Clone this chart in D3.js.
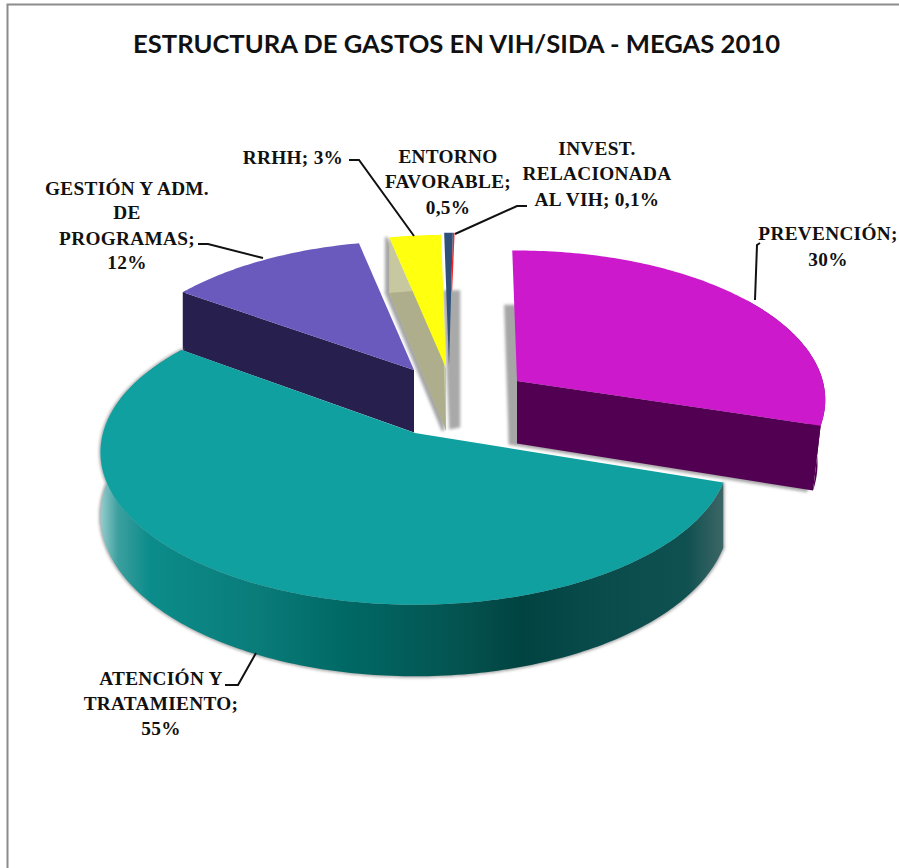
<!DOCTYPE html>
<html>
<head>
<meta charset="utf-8">
<title>Estructura de gastos</title>
<script src="https://d3js.org/d3.v7.min.js"></script>
<style>
html, body { margin: 0; padding: 0; background: #fff; }
svg { display: block; }
</style>
</head>
<body>
<svg id="chart" width="899" height="868"></svg>
<script>
// values, percentages of the total
var categories = ['PREVENCIÓN', 'ATENCIÓN Y TRATAMIENTO', 'GESTIÓN Y ADM. DE PROGRAMAS', 'RRHH', 'ENTORNO FAVORABLE', 'INVEST. RELACIONADA AL VIH'];
var values = [30, 55, 12, 3, 0.5, 0.1];
var titleText = 'ESTRUCTURA DE GASTOS EN VIH/SIDA - MEGAS 2010';

var topColors = ['#cc19cc', '#11a0a0', '#6a5abe', '#ffff10', '#2f5078', '#ff2020'];
var sideColors = ['#520052', 'url(#tealRim)', '#27204f', '#c8c8a0', '#a9a9a9', '#a9a9a9'];

// how far each slice is pulled out of the pie, and small per slice corrections
var explodeX = [77, -25, -26, 6, 9, 9];
var explodeY = [6, 58, -5, -7, -9, -9];
var radiusScale = [0.98, 1, 0.97, 1, 1, 1];
var spin = [0, 1.5, 0, 0, 0, 0];
var shadowX = [-7, 0, 0, -3, 0, 0];
var hasShadow = [true, true, false, true, false, false];
var taper = [0.975, 1, 1, 1, 1, 1];
var drawOrder = [5, 4, 3, 2, 0, 1];

var labels = [
  { lines: ['PREVENCIÓN;', '30%'], x: 828, y: [240, 266], leader: [[760, 243], [757, 245], [755, 300]] },
  { lines: ['ATENCIÓN Y', 'TRATAMIENTO;', '55%'], x: 161, y: [685, 710, 735], leader: [[225, 685], [238, 685], [256, 653]] },
  { lines: ['GESTIÓN Y ADM.', 'DE', 'PROGRAMAS;', '12%'], x: 127, y: [195, 219, 245, 269], leader: [[198, 244], [208, 244], [263, 258]] },
  { lines: ['RRHH; 3%'], x: 293, y: [164], leader: [[349, 160], [359, 160], [414, 236]] },
  { lines: ['ENTORNO', 'FAVORABLE;', '0,5%'], x: 448, y: [163, 188, 214], leader: null },
  { lines: ['INVEST.', 'RELACIONADA', 'AL VIH; 0,1%'], x: 597, y: [155, 180, 206], leader: [[527, 206], [517, 206], [455, 234]] }
];

var cx = 440, cy = 375;
var R = 312, tilt = 150, focal = 7.9, depth = 62.5;

var svg = d3.select('#chart');
var defs = svg.append('defs');

// rim shading of the big slice
var rim = defs.append('linearGradient').attr('id', 'tealRim')
  .attr('gradientUnits', 'userSpaceOnUse').attr('x1', 99).attr('x2', 730).attr('y1', 0).attr('y2', 0);
[[0, '#9fd0d0'], [0.03, '#3c9f9f'], [0.08, '#0b8c8a'], [0.25, '#0a7c7a'], [0.38, '#006a66'],
 [0.58, '#04524f'], [0.67, '#004341'], [0.8, '#0a4c4c'], [0.93, '#0f5050'], [1, '#456a6a']]
  .forEach(function(s) { rim.append('stop').attr('offset', s[0]).attr('stop-color', s[1]); });

defs.append('filter').attr('id', 'soft').attr('x', '-20%').attr('y', '-20%').attr('width', '140%').attr('height', '140%')
  .append('feGaussianBlur').attr('stdDeviation', 1.6);

// frame
svg.append('path')
  .attr('d', 'M7.5,868V4.5H899')
  .attr('fill', 'none').attr('stroke', '#8c8c8c').attr('stroke-width', 2);

svg.append('text')
  .attr('x', 456.5).attr('y', 53)
  .attr('text-anchor', 'middle')
  .attr('font-family', 'Lato')
  .attr('font-weight', 'bold')
  .attr('font-size', 25.6)
  .attr('fill', '#111')
  .text(titleText);

// percentages are rounded, so one full turn is 100 and not the sum of the array
// (d3.pie clamps its span to one turn, so the angles come from a plain scale)
var start = -1 * Math.PI / 180;
var angle = d3.scaleLinear().domain([0, 100]).range([start, start + 2 * Math.PI]);
var totals = Array.from(d3.cumsum(values));
var arcs = values.map(function(v, i) {
  var turn = spin[i] * Math.PI / 180;
  return { startAngle: angle(totals[i] - v) + turn, endAngle: angle(totals[i]) + turn };
});

function project(a, r) {
  var u = Math.sin(a), v = -Math.cos(a);
  var s = focal / (focal - v);
  return { x: R * r * u * s, y: tilt * r * v * s, v: v, s: s };
}

var line = d3.line();

function samples(d, r) {
  var n = Math.max(2, Math.ceil((d.endAngle - d.startAngle) * 60));
  return d3.range(n + 1).map(function(i) {
    return project(d.startAngle + (d.endAngle - d.startAngle) * i / n, r);
  });
}

function slicePaths(d, i) {
  var ax = cx + explodeX[i], ay = cy + explodeY[i];
  var pts = samples(d, radiusScale[i]);
  var top = pts.map(function(p) { return [ax + p.x, ay + p.y]; });
  var bottom = pts.map(function(p) { return [ax + p.x * taper[i], ay + p.y + depth * p.s]; });
  var apexBottom = [ax, ay + depth];
  var last = pts.length - 1;

  // only the part of the rim that can be seen from the front
  var keep = d3.range(pts.length).filter(function(k) { return pts[k].v > -0.6; });
  var rimTop = keep.map(function(k) { return top[k]; });
  var rimBottom = keep.map(function(k) { return bottom[k]; }).reverse();

  var faces = [];
  if (keep.length > 1) faces.push(line(rimTop.concat(rimBottom)) + 'Z');
  if (Math.sin(d.startAngle) < -0.1) faces.unshift(line([[ax, ay], top[0], bottom[0], apexBottom]) + 'Z');
  if (Math.sin(d.endAngle) > 0.1) faces.unshift(line([[ax, ay], top[last], bottom[last], apexBottom]) + 'Z');

  return {
    top: line([[ax, ay]].concat(top)) + 'Z',
    floor: line([apexBottom].concat(bottom)) + 'Z',
    faces: faces,
    // grey block seen under the two thinnest slices
    block: line([[bottom[0][0] - 1, bottom[0][1] + 2], [bottom[0][0] + 16, bottom[0][1] + 2],
                 [bottom[0][0] + 16, apexBottom[1] - 1], [bottom[0][0] + 5, apexBottom[1] + 1]]) + 'Z'
  };
}

drawOrder.forEach(function(i) {
  var p = slicePaths(arcs[i], i);
  var g = svg.append('g').attr('class', 'slice');

  // the two thinnest slices only show a flat grey block below them
  if (values[i] < 1) {
    if (i === 4) {
      g.append('path').attr('d', p.block)
        .attr('fill', sideColors[i])
        .attr('filter', 'url(#soft)');
    }
    g.append('path').attr('d', p.top).attr('fill', topColors[i]);
    return;
  }

  if (hasShadow[i]) {
    g.append('g')
      .attr('filter', 'url(#soft)')
      .attr('transform', 'translate(' + shadowX[i] + ',0)')
      .selectAll('path')
      .data(p.faces.concat([p.floor]))
      .enter().append('path')
      .attr('d', function(d) { return d; })
      .attr('fill', '#a6a6a6')
      .attr('stroke', '#a6a6a6')
      .attr('stroke-width', 2.5);
  }

  g.selectAll('path.side')
    .data(p.faces)
    .enter().append('path')
    .attr('class', 'side')
    .attr('d', function(d) { return d; })
    .attr('fill', sideColors[i]);

  if (i === 3) {
    g.append('path').attr('d', p.floor).attr('fill', '#aeae8c');
  }

  g.append('path').attr('d', p.top).attr('fill', topColors[i]);
});

// labels and leader lines
labels.forEach(function(l) {
  if (l.leader) {
    svg.append('path')
      .attr('d', line(l.leader))
      .attr('fill', 'none')
      .attr('stroke', '#111')
      .attr('stroke-width', 2);
  }
  l.lines.forEach(function(t, j) {
    svg.append('text')
      .attr('x', l.x).attr('y', l.y[j])
      .attr('text-anchor', 'middle')
      .attr('font-family', 'Liberation Serif')
      .attr('font-weight', 'bold')
      .attr('font-size', 19.3)
      .attr('letter-spacing', 0.3)
      .attr('fill', '#111')
      .text(t);
  });
});
</script>
</body>
</html>
